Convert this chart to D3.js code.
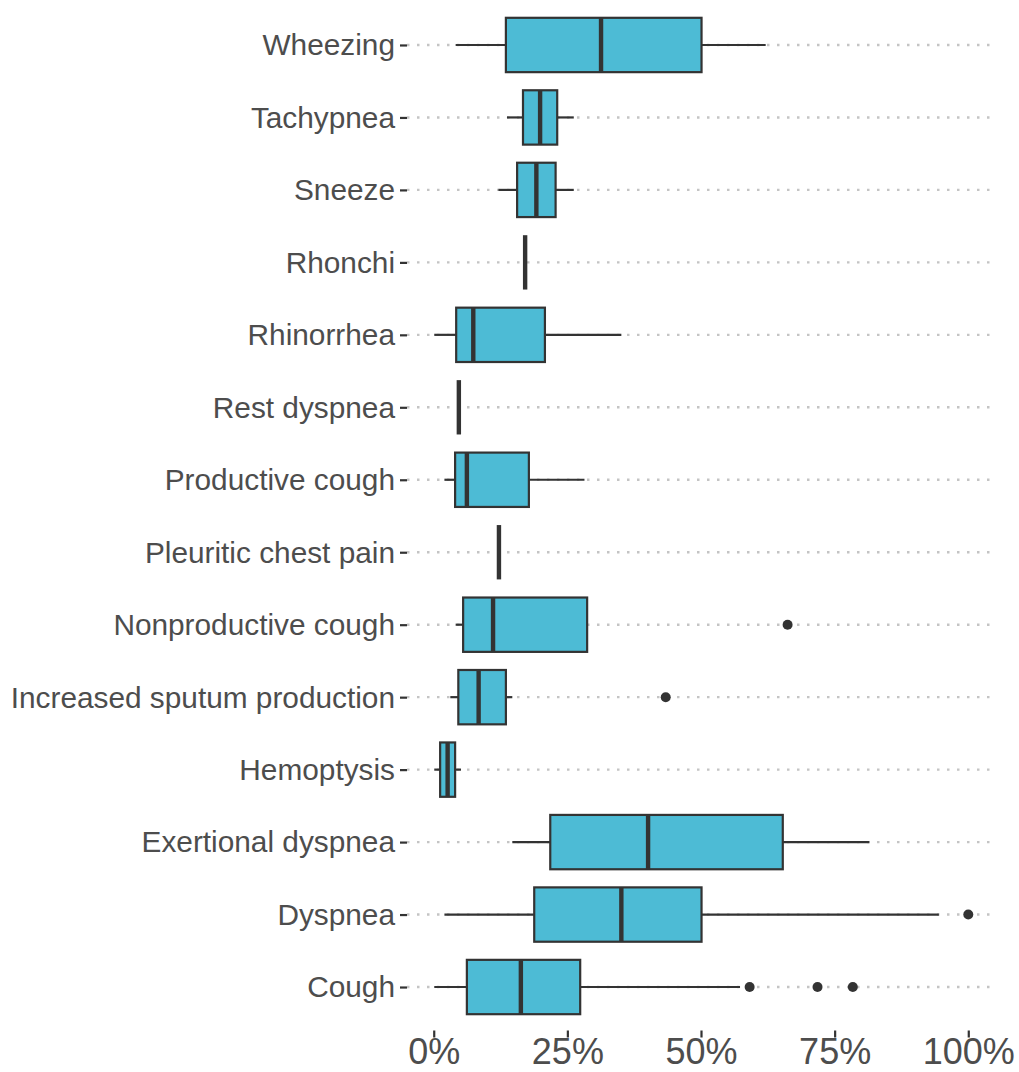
<!DOCTYPE html>
<html>
<head>
<meta charset="utf-8">
<script src="https://cdn.jsdelivr.net/npm/d3@7"></script>
<style>
  html, body { margin: 0; padding: 0; background: #ffffff; }
  svg { display: block; }
</style>
</head>
<body>
<svg id="chart" width="1019" height="1072"></svg>
<script>
// Categories, top to bottom
const categories = ["Wheezing", "Tachypnea", "Sneeze", "Rhonchi", "Rhinorrhea", "Rest dyspnea",
  "Productive cough", "Pleuritic chest pain", "Nonproductive cough", "Increased sputum production",
  "Hemoptysis", "Exertional dyspnea", "Dyspnea", "Cough"];
const whiskerLow  = [0.041, 0.137, 0.121, 0.171, 0.001, 0.047, 0.020, 0.122, 0.041, 0.031, 0.001, 0.147, 0.020, 0.001];
const q1          = [0.135, 0.167, 0.156, 0.171, 0.042, 0.047, 0.040, 0.122, 0.055, 0.046, 0.012, 0.218, 0.188, 0.062];
const medians     = [0.313, 0.199, 0.192, 0.171, 0.074, 0.047, 0.062, 0.122, 0.111, 0.084, 0.026, 0.401, 0.351, 0.163];
const q3          = [0.501, 0.231, 0.228, 0.171, 0.208, 0.047, 0.178, 0.122, 0.287, 0.135, 0.040, 0.653, 0.501, 0.274];
const whiskerHigh = [0.621, 0.262, 0.262, 0.171, 0.351, 0.047, 0.282, 0.122, 0.287, 0.147, 0.051, 0.815, 0.945, 0.573];
const outliers    = [[], [], [], [], [], [], [], [], [0.662], [0.434], [], [], [1.0], [0.591, 0.718, 0.784]];
const xTicks = [0, 0.25, 0.5, 0.75, 1];
const xTickLabels = ["0%", "25%", "50%", "75%", "100%"];

const rows = categories.map((c, i) => ({
  cat: c, lo: whiskerLow[i], q1: q1[i], med: medians[i], q3: q3[i], hi: whiskerHigh[i], out: outliers[i]
}));

const panel = { left: 407, right: 995, top: 1.5, bottom: 1030.5 };
const svg = d3.select("#chart");

const x = d3.scaleLinear().domain([-0.05, 1.05]).range([panel.left, panel.right]);
const y = d3.scalePoint().domain(categories).range([panel.top, panel.bottom]).padding(0.6);
const boxH = y.step() * 0.75;

const fill = "#4DBBD5", ink = "#333333", txt = "#4D4D4D";

// grid lines (dotted)
svg.append("g").selectAll("line").data(categories).join("line")
  .attr("x1", panel.left).attr("x2", panel.right)
  .attr("y1", d => y(d)).attr("y2", d => y(d))
  .attr("stroke", "#C4C4C4").attr("stroke-width", 2.4)
  .attr("stroke-dasharray", "2.5 7.5");

// y axis
const yAxis = svg.append("g").attr("transform", `translate(${panel.left},0)`)
  .call(d3.axisLeft(y).tickSize(7).tickPadding(5));
yAxis.select(".domain").remove();
yAxis.selectAll(".tick line").attr("stroke", ink).attr("stroke-width", 2.2);
yAxis.selectAll(".tick text").attr("fill", txt)
  .style("font-family", "'Liberation Sans', Arial, sans-serif").style("font-size", "29.8px")
  .attr("dy", "0.33em");

// x axis
const xAxis = svg.append("g").attr("transform", `translate(0,${panel.bottom})`)
  .call(d3.axisBottom(x).tickValues(xTicks).tickFormat((d, i) => xTickLabels[i]).tickSize(7));
xAxis.select(".domain").remove();
xAxis.selectAll(".tick line").attr("stroke", ink).attr("stroke-width", 2.2);
xAxis.selectAll(".tick text").attr("fill", txt)
  .style("font-family", "'Liberation Sans', Arial, sans-serif").style("font-size", "36px")
  .attr("y", 33.5).attr("dy", "0");

// boxplots
const g = svg.append("g");
const rg = g.selectAll("g.row").data(rows).join("g").attr("class", "row");

// whiskers
rg.append("line")
  .attr("x1", d => x(d.lo)).attr("x2", d => x(d.q1))
  .attr("y1", d => y(d.cat)).attr("y2", d => y(d.cat))
  .attr("stroke", ink).attr("stroke-width", 2.2);
rg.append("line")
  .attr("x1", d => x(d.q3)).attr("x2", d => x(d.hi))
  .attr("y1", d => y(d.cat)).attr("y2", d => y(d.cat))
  .attr("stroke", ink).attr("stroke-width", 2.2);

// box
rg.append("rect")
  .attr("x", d => x(d.q1)).attr("width", d => x(d.q3) - x(d.q1))
  .attr("y", d => y(d.cat) - boxH / 2).attr("height", boxH)
  .attr("fill", fill).attr("stroke", ink).attr("stroke-width", 2.2);

// median
rg.append("line")
  .attr("x1", d => x(d.med)).attr("x2", d => x(d.med))
  .attr("y1", d => y(d.cat) - boxH / 2).attr("y2", d => y(d.cat) + boxH / 2)
  .attr("stroke", ink).attr("stroke-width", 4.4).attr("stroke-linecap", "butt");

// outliers
rg.selectAll("circle").data(d => d.out.map(v => ({ v, cat: d.cat }))).join("circle")
  .attr("cx", d => x(d.v)).attr("cy", d => y(d.cat)).attr("r", 5)
  .attr("fill", ink);
</script>
</body>
</html>
